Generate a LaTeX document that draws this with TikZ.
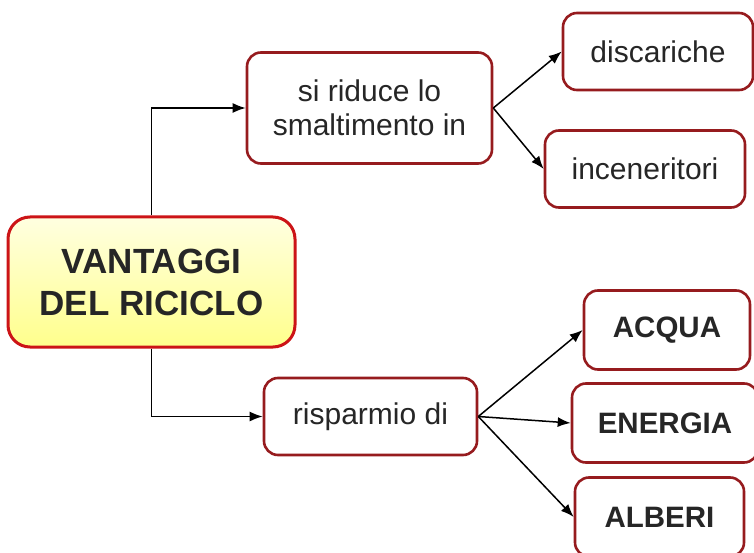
\documentclass[tikz,border=0pt]{standalone}
\usepackage{fontspec}
\setmainfont{Liberation Sans}
\usetikzlibrary{arrows.meta}
\definecolor{boxred}{HTML}{961B1E}
\definecolor{mainred}{HTML}{CC1417}
\definecolor{txtgray}{HTML}{262626}

\begin{document}
\begin{tikzpicture}[x=1pt,y=-1pt,
    box/.style={draw=boxred,line width=2.6pt,rounded corners=14pt,fill=white,
        text=txtgray,align=center,inner sep=0pt,minimum height=77pt,
        font=\fontsize{30}{34}\selectfont},
    boldbox/.style={box,font=\fontsize{29.5}{34}\selectfont\bfseries},
    link/.style={-{Latex[length=13pt,width=10pt]},line width=1.5pt}]
    %\draw[help lines,step=50pt] (0,0) grid (754,553);
    \useasboundingbox (0,0) rectangle (754,553);

    \node[box,draw=mainred,line width=3pt,rounded corners=22pt,
        top color=yellow!12,bottom color=yellow!45,
        minimum width=287pt,minimum height=130pt,
        font=\fontsize{35}{42}\selectfont\bfseries] (vantaggi) at (151.5,282)
        {VANTAGGI\\DEL RICICLO};

    \node[box,minimum width=245pt,minimum height=111pt] (riduce) at (369.5,108)
        {si riduce lo\\smaltimento in};
    \node[box,minimum width=190pt] (discariche) at (658,51.5) {discariche};
    \node[box,minimum width=200pt] (inceneritori) at (645,169) {inceneritori};

    \node[box,minimum width=213pt] (risparmio) at (370.5,416.5) {risparmio di};
    \node[boldbox,minimum width=166pt,minimum height=79pt] (acqua) at (667,330) {ACQUA};
    \node[boldbox,minimum width=186pt,minimum height=79pt] (energia) at (665,423) {ENERGIA};
    \node[boldbox,minimum width=169pt,minimum height=79pt] (alberi) at (659.5,517) {ALBERI};

    \draw[link] (vantaggi.north) |- (riduce.west);
    \draw[link] (vantaggi.south) |- (risparmio.west);
    \draw[link] (riduce.east) -- (discariche.west);
    \draw[link] (riduce.east) -- (inceneritori.west);
    \draw[link] (risparmio.east) -- (acqua.west);
    \draw[link] (risparmio.east) -- (energia.west);
    \draw[link] (risparmio.east) -- (alberi.west);
\end{tikzpicture}
\end{document}
